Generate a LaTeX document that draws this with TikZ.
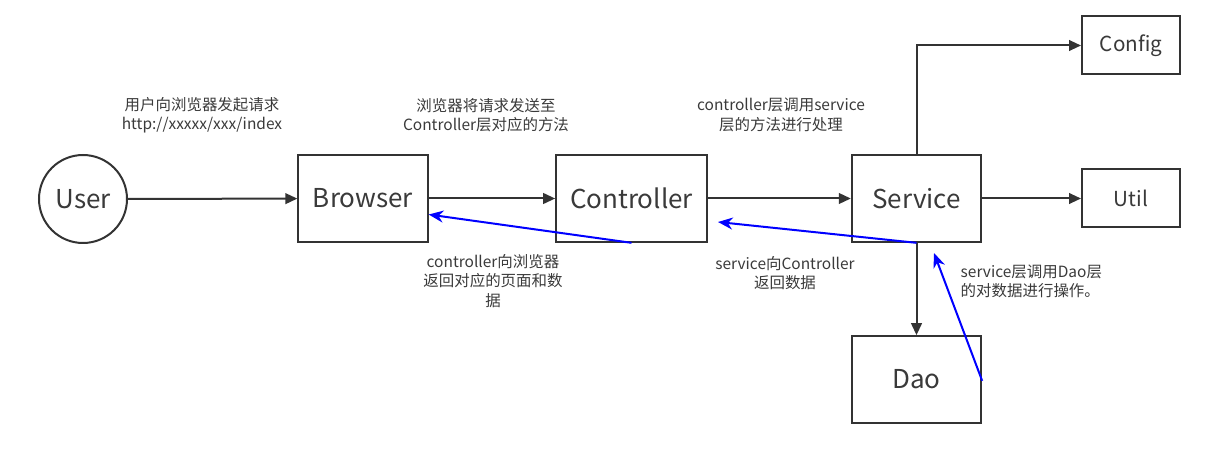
\documentclass[tikz,border=0pt]{standalone}
\usepackage{fontspec}
\setmainfont{Noto Sans CJK SC}
\usetikzlibrary{positioning,arrows.meta}
\definecolor{linegray}{HTML}{333333}
\definecolor{textgray}{HTML}{3A3A3A}
\definecolor{retblue}{HTML}{0000FF}
\tikzset{
  callarrow/.style={-{Triangle[length=9pt, width=8pt]}, line width=1.5pt, draw=linegray},
  backarrow/.style={-{Stealth[length=11pt, width=9pt]}, line width=1.5pt, draw=retblue},
  layerbox/.style={draw=linegray, line width=1.5pt, fill=white, minimum width=97pt, minimum height=65pt, text=textgray, font=\fontsize{19.5}{23}\selectfont},
  smallbox/.style={draw=linegray, line width=1.5pt, fill=white, minimum width=73.5pt, minimum height=43.5pt, text=textgray, font=\fontsize{15.5}{18}\selectfont},
  userbox/.style={draw=linegray, line width=1.5pt, circle, minimum size=66pt, text=textgray, font=\fontsize{19.5}{23}\selectfont},
  note/.style={align=center, text=textgray, font=\fontsize{11.6}{14.5}\selectfont}
}

\begin{document}
\begin{tikzpicture}[x=0.75pt, y=-0.75pt]
  \useasboundingbox (0,0) rectangle (1207,452);
  \node[userbox] (user) at (83,199) {User};
  \node[layerbox] (browser) at (363,198.5) {Browser};
  \node[layerbox, minimum width=113pt] (controller) at (631.5,198.5) {Controller};
  \node[layerbox] (service) at (916.5,198.5) {Service};
  \node[layerbox] (dao) at (916.5,379.5) {Dao};
  \node[smallbox] (config) at (1131,45.5) {Config};
  \node[smallbox] (util) at (1131,198.5) {Util};
  \coordinate (ctrlback) at (718,222);
  \coordinate (servback) at (934,253);

  \node[note] (askbrowser) at (202,115) {用户向浏览器发起请求\\http://xxxxx/xxx/index};
  \node[note] (askctrl) at (486,115) {浏览器将请求发送至\\Controller层对应的方法};
  \node[note] (askserv) at (781,115) {controller层调用service\\层的方法进行处理};
  \node[note] (ctrlret) at (493,281) {controller向浏览器\\返回对应的页面和数\\据};
  \node[note] (servret) at (785,273) {service向Controller\\返回数据};
  \node[note, align=left, anchor=west] (daoret) at (956,281) {service层调用Dao层\\的对数据进行操作。};

  \draw[callarrow] (user) -- (browser);
  \draw[callarrow] (browser) -- (controller);
  \draw[callarrow] (controller) -- (service);
  \draw[callarrow] (service) -- (util);
  \draw[callarrow] (service.north) |- (config);
  \draw[callarrow] (service) -- (dao);
  \draw[backarrow] (controller.south) -- ([yshift=-12pt]browser.east);
  \draw[backarrow] (service.south) -- (ctrlback);
  \draw[backarrow] ([yshift=-1pt]dao.east) -- (servback);
\end{tikzpicture}
\end{document}
